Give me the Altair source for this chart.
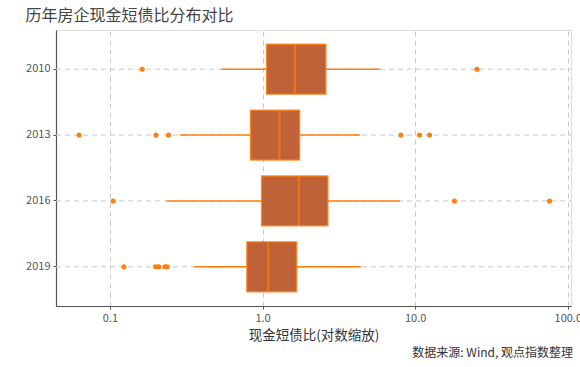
import altair as alt
import pandas as pd

years = ["2010", "2013", "2016", "2019"]
whisker_lo = [0.538, 0.287, 0.235, 0.355]
q1 = [1.062, 0.834, 0.985, 0.789]
median = [1.628, 1.292, 1.729, 1.088]
q3 = [2.60, 1.748, 2.68, 1.671]
whisker_hi = [5.87, 4.34, 7.94, 4.41]

outlier_years = ["2010", "2010",
                 "2013", "2013", "2013", "2013", "2013", "2013",
                 "2016", "2016", "2016",
                 "2019", "2019", "2019", "2019", "2019"]
outlier_values = [0.1626, 25.4,
                  0.0628, 0.200, 0.242, 8.06, 10.69, 12.43,
                  0.105, 18.1, 76.0,
                  0.1234, 0.199, 0.209, 0.229, 0.237]

x_ticks = [0.1, 1, 10, 100]

stats = pd.DataFrame({"year": years, "lo": whisker_lo, "q1": q1,
                      "med": median, "q3": q3, "hi": whisker_hi})
outl = pd.DataFrame({"year": outlier_years, "v": outlier_values})

W, H = 515, 276
FONT = "Noto Sans CJK SC"
ORANGE = "#ff7f0e"
FILL = "#bf6238"

xscale = alt.Scale(type="log", domain=[0.0443, 105], nice=False)
yscale = alt.Scale(domain=years, paddingInner=0.2424, paddingOuter=0.2167)

xaxis = alt.Axis(values=x_ticks, format=".1f", title="现金短债比(对数缩放)",
                 grid=True, gridDash=[5, 4], gridColor="#c8c8c8", gridWidth=1,
                 domainColor="#555555", domainWidth=1.2, tickColor="#555555",
                 tickSize=3, labelFontSize=11, labelColor="#555555",
                 labelPadding=3, labelFont=FONT, titleFont=FONT,
                 titleFontSize=13.5, titleFontWeight="normal",
                 titleColor="#333333", titlePadding=5)
yaxis = alt.Axis(title=None, grid=False, domainColor="#555555",
                 domainWidth=1.2, tickColor="#555555", tickSize=3,
                 labelFontSize=11, labelColor="#555555", labelPadding=3,
                 labelFont=FONT)

base = alt.Chart(stats)

grid_y = base.mark_rule(strokeDash=[5, 4], color="#c8c8c8", strokeWidth=1).encode(
    y=alt.Y("year:N", scale=yscale, axis=yaxis, sort=years),
    x=alt.value(0), x2=alt.value(W))

whisk = base.mark_rule(color=ORANGE, strokeWidth=1.4).encode(
    y=alt.Y("year:N", scale=yscale, sort=years),
    x=alt.X("lo:Q", scale=xscale, axis=xaxis), x2="hi:Q")

box = base.mark_bar(fill=FILL, stroke=ORANGE, strokeWidth=1.4,
                    strokeOpacity=0.85).encode(
    y=alt.Y("year:N", scale=yscale, sort=years),
    x=alt.X("q1:Q", scale=xscale), x2="q3:Q")

med = base.mark_tick(color=ORANGE, thickness=2, size=49).encode(
    y=alt.Y("year:N", scale=yscale, sort=years),
    x=alt.X("med:Q", scale=xscale))

pts = alt.Chart(outl).mark_circle(color=ORANGE, opacity=1, size=26).encode(
    y=alt.Y("year:N", scale=yscale, sort=years),
    x=alt.X("v:Q", scale=xscale))

src = alt.Chart(pd.DataFrame({"t": ["数据来源: Wind, 观点指数整理"]})).mark_text(
    align="right", baseline="middle", font=FONT, fontSize=12, color="#333333").encode(
    text="t:N", x=alt.value(W + 2), y=alt.value(H + 47))

chart = alt.layer(grid_y, whisk, box, med, pts, src).properties(
    width=W, height=H,
    title=alt.TitleParams("历年房企现金短债比分布对比", anchor="start",
                          font=FONT, fontSize=16, fontWeight="normal",
                          color="#444444", offset=6),
    autosize=alt.AutoSizeParams(type="none"),
    padding={"left": 56, "top": 30, "right": 9, "bottom": 61},
).configure_view(stroke=None).configure(background="white")

chart.save("out.html", embed_options={"renderer": "svg", "actions": False})
